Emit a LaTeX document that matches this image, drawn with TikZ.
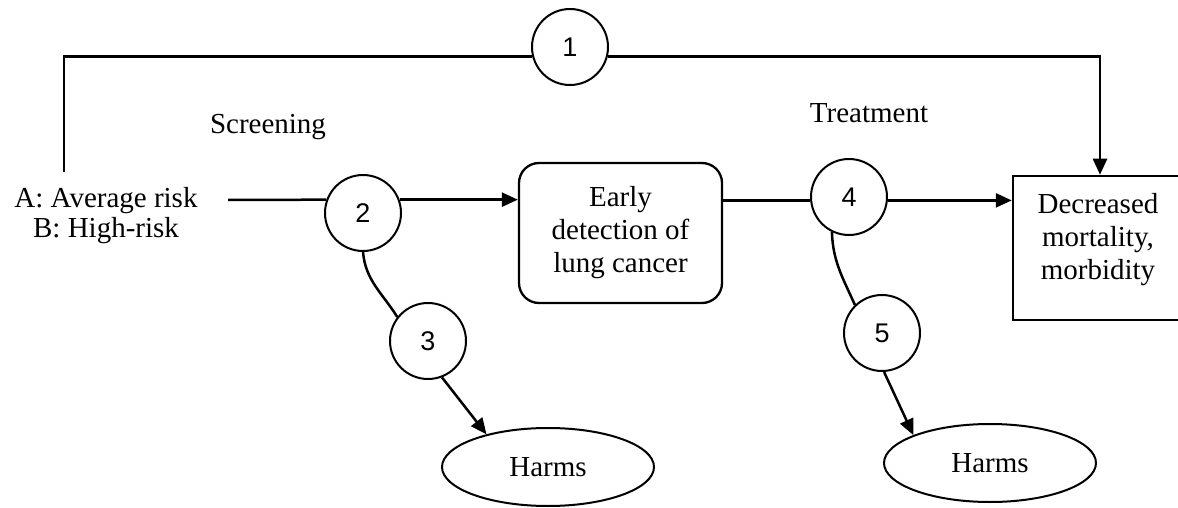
\documentclass[tikz,border=0pt]{standalone}
\usepackage{fontspec}
\setmainfont{Liberation Serif}
\newfontfamily\digitfont{Liberation Sans}
\usetikzlibrary{arrows.meta,shapes.geometric}
\begin{document}
\begin{tikzpicture}[x=1pt,y=1pt,
  txt/.style={font=\fontsize{29}{33}\selectfont, align=center, inner sep=0pt},
  num/.style={circle, draw, line width=2pt, minimum size=76pt, inner sep=0pt,
    font=\digitfont\fontsize{27}{30}\selectfont},
  conn/.style={line width=2.5pt},
  arr/.style={conn, -{Triangle[length=16pt,width=14pt]}},
  harm/.style={ellipse, draw, line width=2pt, minimum width=212pt, minimum height=78pt,
    inner sep=0pt, font=\fontsize{29}{33}\selectfont},
  earlybox/.style={draw, rounded corners=20pt, line width=2.3pt, minimum width=203pt,
    minimum height=140pt, txt},
  outbox/.style={draw, line width=2.5pt, minimum width=174pt, minimum height=144pt, inner sep=0pt}
]
\useasboundingbox (0,0) rectangle (1178,-508);
\clip (0,0) rectangle (1178,-508);

\node[num] (c1) at (570,-47) {1};
\node[num] (c2) at (363,-213) {2};
\node[num] (c3) at (428,-341) {3};
\node[num] (c4) at (849,-197) {4};
\node[num] (c5) at (882,-333) {5};

\node[earlybox] (early) at (620.5,-233) {Early\\detection of\\lung cancer};
\node[outbox] (dec) at (1100,-248) {};
\node[txt] (dect) at (1098,-240) {Decreased\\mortality,\\morbidity};

\node[harm] (h1) at (548,-467) {Harms};
\node[harm] (h2) at (990,-463) {Harms};

\node[txt] (scr) at (268,-127) {Screening};
\node[txt] (trt) at (869,-113) {Treatment};
\node[txt, font=\fontsize{29}{30}\selectfont] (pop) at (106,-216) {A: Average risk\\B: High-risk};

\coordinate (s0) at (64,-172);
\coordinate (m0) at (228,-200);

\draw[conn] (s0) |- (c1.194);
\draw[arr] (c1.-14) -| (dec.north);
\draw[conn] (m0) -- (c2.160);
\draw[arr] (c2.20) -- (c2.20 -| early.west);
\draw[conn] (early.east |- c4.185) -- (c4.185);
\draw[arr] (c4.-5) -- (c4.-5 -| dec.west);
\draw[conn] (c2.south) to[out=-85, in=122] (c3.142);
\draw[conn] (c4.-116) to[out=-88, in=114] (c5.134);
\draw[arr] (c3.-69) -- (h1.152);
\draw[arr] (c5.-87) -- (h2.160);
\end{tikzpicture}
\end{document}
